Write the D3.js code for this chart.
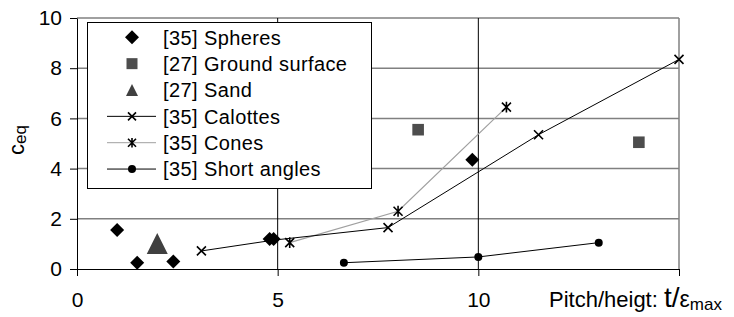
<!DOCTYPE html>
<html>
<head>
<meta charset="utf-8">
<script src="https://cdn.jsdelivr.net/npm/d3@7"></script>
<style>
  body { margin: 0; background: #fff; }
  text { font-family: "Liberation Sans", Arial, sans-serif; }
</style>
</head>
<body>
<svg></svg>
<script>
const svgWidth = 734;
const svgHeight = 317;

// data
const spheresX = [1.0, 1.5, 2.4, 4.8, 4.9, 9.85];
const spheresY = [1.55, 0.25, 0.3, 1.2, 1.2, 4.35];
const groundX = [8.5, 14.0];
const groundY = [5.55, 5.05];
const sandX = [2.0];
const sandY = [1.02];
const calottesX = [3.1, 4.9, 7.75, 11.5, 15.0];
const calottesY = [0.72, 1.15, 1.65, 5.35, 8.35];
const conesX = [5.3, 8.0, 10.7];
const conesY = [1.05, 2.3, 6.45];
const shortX = [6.65, 10.0, 13.0];
const shortY = [0.25, 0.48, 1.05];

const xTicks = [0, 5, 10, 15];
const yTicks = [0, 2, 4, 6, 8, 10];
const legendLabels = ["[35] Spheres", "[27] Ground surface", "[27] Sand",
                      "[35] Calottes", "[35] Cones", "[35] Short angles"];

const x = d3.scaleLinear().domain([0, 15]).range([77, 679]);
const y = d3.scaleLinear().domain([0, 10]).range([269, 18]);

const svg = d3.select("svg")
  .attr("width", svgWidth)
  .attr("height", svgHeight);

const zip = (xs, ys) => xs.map((d, i) => [d, ys[i]]);

// horizontal gridlines (gray) incl. top border
svg.append("g").selectAll("line")
  .data(yTicks.filter(d => d > 0))
  .enter().append("line")
  .attr("x1", x(0)).attr("x2", x(15))
  .attr("y1", d => y(d)).attr("y2", d => y(d))
  .attr("stroke", "#808080").attr("stroke-width", 1.5);

// right border
svg.append("line")
  .attr("x1", x(15)).attr("x2", x(15))
  .attr("y1", y(0)).attr("y2", y(10))
  .attr("stroke", "#808080").attr("stroke-width", 1.5);

// vertical gridlines (black)
svg.append("g").selectAll("line")
  .data([5, 10])
  .enter().append("line")
  .attr("x1", d => x(d)).attr("x2", d => x(d))
  .attr("y1", y(0)).attr("y2", y(10))
  .attr("stroke", "#000").attr("stroke-width", 1);

// axes
const yAxis = svg.append("g")
  .attr("transform", `translate(${x(0)},0)`)
  .call(d3.axisLeft(y).tickValues(yTicks).tickSize(7).tickSizeOuter(0).tickPadding(8));

const xAxis = svg.append("g")
  .attr("transform", `translate(0,${y(0)})`)
  .call(d3.axisBottom(x).tickValues(xTicks).tickSize(7).tickSizeOuter(0).tickPadding(16)
    .tickFormat(d => d === 15 ? "" : d));

[xAxis, yAxis].forEach(g => {
  g.selectAll("text").style("font-size", "21px").attr("fill", "#000")
    .style("font-family", '"Liberation Sans", Arial, sans-serif');
  g.selectAll("line, path").attr("stroke", "#000").attr("stroke-width", 1);
});

// marker shapes
const diamond = s => `M0,${-s}L${s},0L0,${s}L${-s},0Z`;
const square = s => `M${-s},${-s}H${s}V${s}H${-s}Z`;
const triangle = s => `M0,${-s}L${s},${s}L${-s},${s}Z`;
const cross = s => `M${-s},${-s}L${s},${s}M${-s},${s}L${s},${-s}`;
const star = s => `M${-s},${-s}L${s},${s}M${-s},${s}L${s},${-s}M0,${-s * 1.2}V${s * 1.2}`;

const line = d3.line().x(d => x(d[0])).y(d => y(d[1]));

// legend box
const lg = svg.append("g");
lg.append("rect")
  .attr("x", 87.5).attr("y", 22.5).attr("width", 284).attr("height", 166)
  .attr("fill", "#fff").attr("stroke", "#000").attr("stroke-width", 1);

const rowY = i => 37.3 + i * 26.35;
const symX = 132;

lg.selectAll("text")
  .data(legendLabels)
  .enter().append("text")
  .attr("x", 163).attr("y", (d, i) => rowY(i))
  .attr("dy", "0.36em")
  .style("font-size", "20px")
  .style("letter-spacing", "0.4px")
  .text(d => d);

lg.append("path").attr("transform", `translate(${symX},${rowY(0)})`)
  .attr("d", diamond(7)).attr("fill", "#000");
lg.append("path").attr("transform", `translate(${symX},${rowY(1)})`)
  .attr("d", square(5.5)).attr("fill", "#4d4d4d");
lg.append("path").attr("transform", `translate(${symX},${rowY(2)})`)
  .attr("d", triangle(6)).attr("fill", "#404040");

[["#000", cross], ["#a0a0a0", star], ["#000", null]].forEach(([c, m], k) => {
  const yy = rowY(3 + k);
  lg.append("line").attr("x1", 107).attr("x2", 156).attr("y1", yy).attr("y2", yy)
    .attr("stroke", c).attr("stroke-width", 1);
  if (m) {
    lg.append("path").attr("transform", `translate(${symX},${yy})`)
      .attr("d", m(4)).attr("stroke", "#000").attr("stroke-width", 1.6).attr("fill", "none");
  } else {
    lg.append("circle").attr("cx", symX).attr("cy", yy).attr("r", 4).attr("fill", "#000");
  }
});

// series lines
svg.append("path").datum(zip(conesX, conesY))
  .attr("d", line).attr("fill", "none").attr("stroke", "#a0a0a0").attr("stroke-width", 1.2);
svg.append("path").datum(zip(calottesX, calottesY))
  .attr("d", line).attr("fill", "none").attr("stroke", "#000").attr("stroke-width", 1);
svg.append("path").datum(zip(shortX, shortY))
  .attr("d", line).attr("fill", "none").attr("stroke", "#000").attr("stroke-width", 1);

// markers
const marks = (data, shape, attrs) => {
  const sel = svg.append("g").selectAll("path")
    .data(data).enter().append("path")
    .attr("transform", d => `translate(${x(d[0])},${y(d[1])})`)
    .attr("d", shape);
  Object.entries(attrs).forEach(([k, v]) => sel.attr(k, v));
};

marks(zip(calottesX, calottesY).filter(d => d[0] !== 4.9), cross(4.5),
  { stroke: "#000", "stroke-width": 1.6, fill: "none" });
marks(zip(conesX, conesY), star(4.5),
  { stroke: "#000", "stroke-width": 1.6, fill: "none" });
marks(zip(groundX, groundY), square(5.8), { fill: "#4d4d4d" });
marks(zip(sandX, sandY), triangle(10.5), { fill: "#404040" });
marks(zip(spheresX, spheresY), diamond(7), { fill: "#000" });

svg.append("g").selectAll("circle")
  .data(zip(shortX, shortY)).enter().append("circle")
  .attr("cx", d => x(d[0])).attr("cy", d => y(d[1])).attr("r", 4).attr("fill", "#000");

// axis titles
const xt = svg.append("text").attr("x", 549).attr("y", 307).style("font-size", "22px");
xt.append("tspan").text("Pitch/heigt: ");
xt.append("tspan").style("font-size", "28px").text("t/");
xt.append("tspan").style("font-size", "23px").text("ε");
xt.append("tspan").style("font-size", "17px").attr("dy", 3).text("max");

const yt = svg.append("text")
  .attr("transform", "translate(24,140) rotate(-90)")
  .attr("text-anchor", "middle")
  .style("font-size", "22px");
yt.append("tspan").text("c");
yt.append("tspan").style("font-size", "17px").attr("dy", 2).text("eq");
</script>
</body>
</html>
